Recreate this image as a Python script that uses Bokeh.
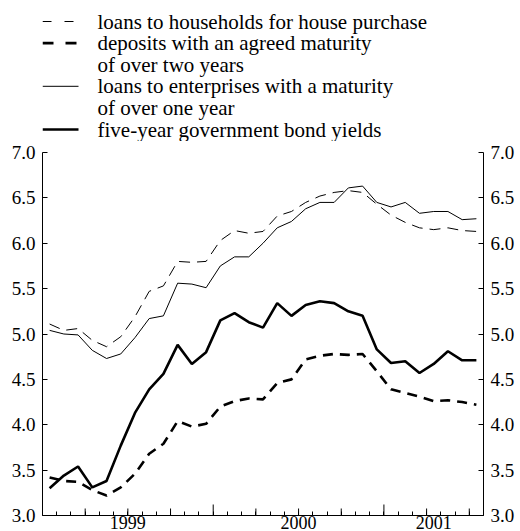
import math
from bokeh.plotting import figure
from bokeh.layouts import column
from bokeh.models import Range1d, LinearAxis, FixedTicker
from bokeh.core.properties import value
from bokeh.embed import file_html
from bokeh.resources import INLINE

# Monthly data, January 1999 - July 2001 (percentages per annum)
months = [f"{y}-{m:02d}" for y in (1999, 2000, 2001) for m in range(1, 13)][:31]

households = [5.11, 5.04, 5.06, 4.93, 4.86, 4.97, 5.19, 5.47, 5.53, 5.80, 5.79, 5.80,
              6.03, 6.14, 6.11, 6.13, 6.30, 6.35, 6.45, 6.52, 6.56, 6.58, 6.56, 6.43,
              6.31, 6.23, 6.17, 6.15, 6.17, 6.14, 6.13]
deposits = [3.42, 3.38, 3.37, 3.28, 3.22, 3.31, 3.46, 3.68, 3.79, 4.04, 3.98, 4.01,
            4.20, 4.26, 4.29, 4.28, 4.46, 4.50, 4.72, 4.76, 4.78, 4.77, 4.78, 4.59,
            4.39, 4.35, 4.31, 4.26, 4.27, 4.25, 4.22]
enterprises = [5.04, 5.00, 4.99, 4.82, 4.73, 4.78, 4.96, 5.17, 5.20, 5.56, 5.55, 5.51,
               5.75, 5.85, 5.85, 6.00, 6.17, 6.24, 6.38, 6.45, 6.45, 6.61, 6.63, 6.45,
               6.40, 6.45, 6.33, 6.35, 6.35, 6.26, 6.27]
bond = [3.30, 3.44, 3.54, 3.31, 3.38, 3.77, 4.13, 4.39, 4.56, 4.88, 4.67, 4.80,
        5.15, 5.23, 5.13, 5.07, 5.34, 5.20, 5.32, 5.36, 5.34, 5.25, 5.20, 4.83,
        4.68, 4.70, 4.57, 4.67, 4.81, 4.71, 4.71]

legend_lines = [["loans to households for house purchase"],
                ["deposits with an agreed maturity", "of over two years"],
                ["loans to enterprises with a maturity", "of over one year"],
                ["five-year government bond yields"]]

y_ticks = [3.0, 3.5, 4.0, 4.5, 5.0, 5.5, 6.0, 6.5, 7.0]
y_tick_labels = ["3.0", "3.5", "4.0", "4.5", "5.0", "5.5", "6.0", "6.5", "7.0"]
year_labels = ["1999", "2000", "2001"]

FONT = "Liberation Serif"
n = len(months)
x = [i + 0.5 for i in range(n)]

styles = [dict(line_width=1, line_dash="11 7"),
          dict(line_width=2.6, line_dash="10 7"),
          dict(line_width=1),
          dict(line_width=2.6)]
legend_dash = ["9 13", "11 12", "solid", "solid"]

W = 520
LEFT, RIGHT = 42, 37
LEG_H = 141
MAIN_H = 531 - LEG_H

# ---------------- main chart ----------------
p = figure(width=W, height=MAIN_H, output_backend="svg", toolbar_location=None,
           x_range=Range1d(0, n), y_range=Range1d(3.0, 7.0),
           min_border_left=LEFT, min_border_right=RIGHT, min_border_top=11,
           min_border_bottom=12)
p.outline_line_color = None
p.grid.visible = False

for ys, st in zip([households, deposits, enterprises, bond], styles):
    p.line(x, ys, line_color="black", **st)

def style_y(ax):
    ax.ticker = FixedTicker(ticks=y_ticks, minor_ticks=[])
    ax.major_label_overrides = {t: l for t, l in zip(y_ticks, y_tick_labels)}
    ax.major_tick_in = 5
    ax.major_tick_out = 0
    ax.minor_tick_in = 0
    ax.minor_tick_out = 0
    ax.major_label_standoff = 7
    ax.major_label_text_font = FONT
    ax.major_label_text_font_size = "19px"
    ax.major_label_text_color = "black"
    ax.axis_line_color = "black"
    ax.major_tick_line_color = "black"

style_y(p.yaxis[0])
right = LinearAxis()
style_y(right)
p.add_layout(right, "right")

# x axis: year labels at the centre of the visible part of each year,
# month ticks as minor ticks, quarter / year ticks as markers on the baseline
month_bounds = list(range(0, n + 1))
year_starts = [i for i, mth in enumerate(months) if mth.endswith("-01")]
year_centres = [(s + min(s + 12, n)) / 2 for s in year_starts]
quarter_bounds = [m for m in month_bounds if m % 3 == 0 and m % 12 != 0]
year_bounds = [s for s in year_starts if s > 0]

xa = p.xaxis[0]
xa.ticker = FixedTicker(ticks=year_centres, minor_ticks=month_bounds)
xa.major_label_overrides = {c: l for c, l in zip(year_centres, year_labels)}
xa.major_tick_in = 0
xa.major_tick_out = 0
xa.minor_tick_in = 4
xa.minor_tick_out = 0
xa.major_label_standoff = 0
xa.major_label_text_font = FONT
xa.major_label_text_font_size = "18px"
xa.major_label_text_line_height = 1.0
xa.major_label_text_color = "black"
xa.axis_line_color = "black"

p.scatter(quarter_bounds, [3.0] * len(quarter_bounds), marker="dash",
          angle=math.pi / 2, size=14, line_color="black", line_width=1)
p.scatter(year_bounds, [3.0] * len(year_bounds), marker="dash",
          angle=math.pi / 2, size=22, line_color="black", line_width=1)

# ---------------- legend strip (pixel-space figure) ----------------
lg = figure(width=W, height=LEG_H, output_backend="svg", toolbar_location=None,
            x_range=Range1d(LEFT, W - RIGHT), y_range=Range1d(LEG_H, 0),
            x_axis_type=None, y_axis_type=None,
            min_border_left=LEFT, min_border_right=RIGHT,
            min_border_top=0, min_border_bottom=0)
lg.grid.visible = False
lg.outline_line_color = None

ROW0, ROW_H = 21, 21.6
SAMPLE_X0, SAMPLE_X1, TEXT_X = 42, 78, 97
row = 0
tx, ty, tt = [], [], []
for lines, st, dash in zip(legend_lines, styles, legend_dash):
    y0 = ROW0 + row * ROW_H
    lg.segment(x0=[SAMPLE_X0], y0=[y0], x1=[SAMPLE_X1], y1=[y0],
               line_color="black", line_width=st["line_width"], line_dash=dash)
    for ln in lines:
        tx.append(TEXT_X)
        ty.append(ROW0 + row * ROW_H)
        tt.append(ln)
        row += 1
lg.text(x=tx, y=ty, text=tt, text_font=value(FONT), text_font_size="21px",
        text_baseline="middle", text_align="left", text_color="black")

open("out.html", "w").write(file_html(column(lg, p, spacing=0), INLINE))
